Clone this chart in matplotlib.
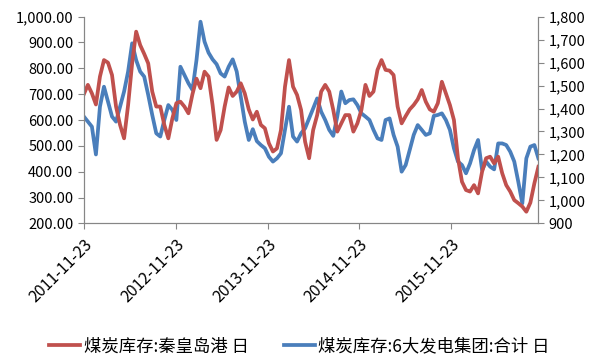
import matplotlib
matplotlib.use("Agg")
import matplotlib.pyplot as plt
import matplotlib.ticker as mticker
import pandas as pd

plt.rcParams['font.family'] = ['Noto Sans CJK SC', 'DejaVu Sans']

# sampled every 16 days from 2011-11-23
start_date = '2011-11-23'
qhd_port = [700, 736, 703, 660, 768, 832, 822, 774, 652, 581, 529, 658, 819, 942, 890,
            856, 819, 710, 652, 652, 581, 529, 606, 665, 671, 652, 626, 700, 760,
            723, 787, 768, 658, 523, 561, 652, 726, 693, 710, 742, 703, 641, 602,
            632, 581, 568, 510, 478, 490, 561, 729, 832, 729, 697, 639, 516, 452,
            561, 619, 710, 736, 710, 639, 555, 587, 619, 619, 555, 587, 639, 736,
            693, 710, 794, 832, 794, 791, 774, 652, 587, 615, 641, 658, 680, 716, 671,
            641, 632, 665, 748, 703, 658, 600, 452, 361, 329, 323, 348, 316, 400,
            452, 458, 432, 458, 394, 348, 323, 290, 278, 265, 245, 280, 355, 419]
six_groups = [1365, 1343, 1321, 1200, 1408, 1495, 1430, 1365, 1343, 1408, 1474, 1561,
              1684, 1611, 1561, 1539, 1459, 1372, 1292, 1278, 1350, 1415, 1394, 1350,
              1582, 1546, 1510, 1481, 1611,
              1778, 1691, 1643, 1614, 1593, 1553, 1539, 1582, 1614, 1561, 1452, 1343,
              1263, 1310, 1258, 1241, 1227, 1190, 1169, 1183, 1205, 1307, 1408, 1278,
              1256, 1292, 1314, 1357,
              1400, 1444, 1386, 1350, 1307, 1281, 1365, 1474, 1423, 1437, 1440, 1415,
              1379, 1365, 1350, 1307, 1270, 1263, 1350, 1357, 1285, 1234, 1125, 1154,
              1219, 1285, 1328, 1307, 1285,
              1292, 1368, 1372, 1379, 1350, 1307, 1227, 1169, 1154, 1118, 1161, 1219,
              1263, 1132, 1169, 1147, 1135, 1248, 1248, 1241, 1212, 1169, 1081, 987,
              1183, 1234, 1241, 1183]
tick_dates = ['2011-11-23', '2012-11-23', '2013-11-23', '2014-11-23', '2015-11-23']
label_left = '煤炭库存:秦皇岛港 日'
label_right = '煤炭库存:6大发电集团:合计 日'

dates = pd.date_range(start_date, periods=len(qhd_port), freq='16D')

red = '#C0504D'
blue = '#4A7EBB'
grey = '#868686'

fig = plt.figure(figsize=(5.99, 3.62), dpi=100, facecolor='w')
ax = fig.add_axes([0.140, 0.383, 0.758, 0.571])
ax2 = ax.twinx()

l1, = ax.plot(dates, qhd_port, color=red, lw=2.7, label=label_left)
l2, = ax2.plot(dates, six_groups, color=blue, lw=2.7, label=label_right)
ax.set_zorder(ax2.get_zorder() + 1)
ax.patch.set_visible(False)

ax.set_ylim(200, 1000)
ax2.set_ylim(900, 1800)
ax.yaxis.set_major_locator(mticker.MultipleLocator(100))
ax2.yaxis.set_major_locator(mticker.MultipleLocator(100))
ax.yaxis.set_major_formatter(mticker.StrMethodFormatter('{x:,.2f}'))
ax2.yaxis.set_major_formatter(mticker.StrMethodFormatter('{x:,.0f}'))

ax.set_xlim(pd.Timestamp(start_date), pd.Timestamp(start_date) + pd.Timedelta(days=1806))
ax.set_xticks(pd.to_datetime(tick_dates))
ax.set_xticklabels(tick_dates, rotation=45, ha='right', va='top', rotation_mode='anchor',
                   fontsize=11.5)

for a in (ax, ax2):
    a.spines['top'].set_visible(False)
    for s in ('left', 'right', 'bottom'):
        a.spines[s].set_color(grey)
    a.tick_params(colors=grey, labelcolor='black', labelsize=10.5, length=4, direction='out')
ax.tick_params(axis='x', pad=5, labelsize=11.5)

fig.legend(handles=[l1, l2], loc='lower center', bbox_to_anchor=(0.5, -0.025), ncol=2,
           frameon=False, fontsize=12.5, handlelength=1.8, columnspacing=2.0,
           handletextpad=0.2)

fig.savefig('out.png', dpi=100)
